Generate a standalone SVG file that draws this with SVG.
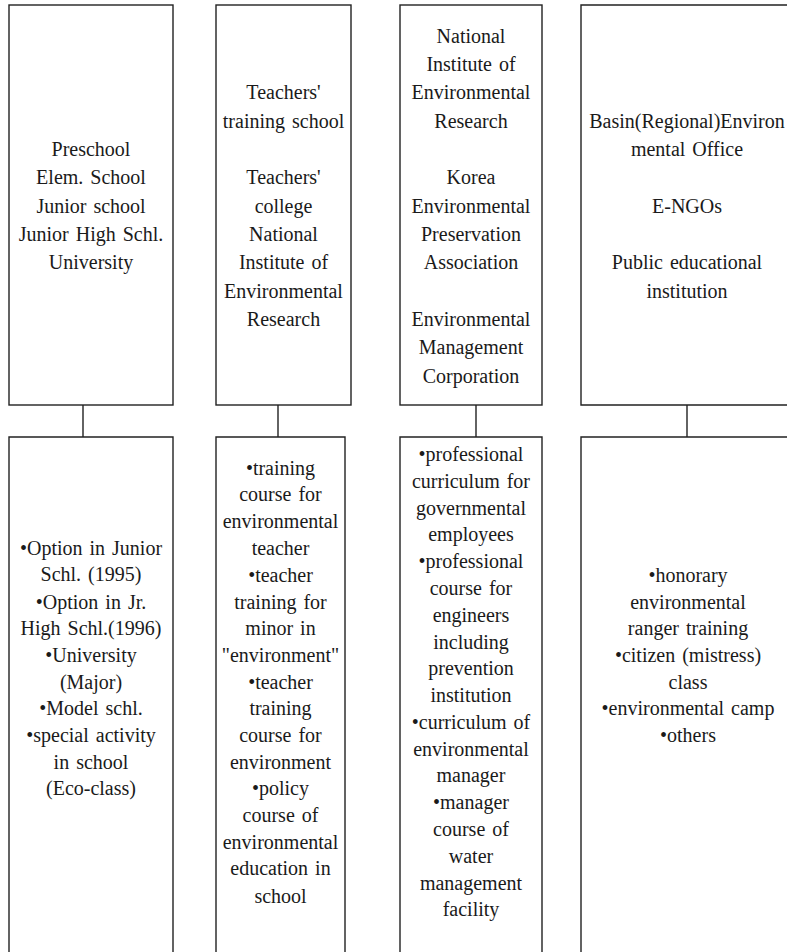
<svg xmlns="http://www.w3.org/2000/svg" width="787" height="952" viewBox="0 0 787 952">
<style>
.box{fill:#fff;stroke:#222;stroke-width:1.4}
.open{fill:none;stroke:#222;stroke-width:1.4}
.conn{stroke:#222;stroke-width:1.4;fill:none}
.t{font-family:'Liberation Serif','Times New Roman','DejaVu Serif',serif;font-size:20px;fill:#1a1a1a;text-anchor:middle;word-spacing:2px}
</style>
<rect width="787" height="952" fill="#fff"/>
<g id="connectors">
<line class="conn" x1="83" y1="405" x2="83" y2="437"/>
<line class="conn" x1="278" y1="405" x2="278" y2="437"/>
<line class="conn" x1="476" y1="405" x2="476" y2="437"/>
<line class="conn" x1="687" y1="405" x2="687" y2="437"/>
</g>
<g id="node-schools">
<rect class="box" x="9" y="5" width="164" height="400"/>
<text class="t" font-family="Liberation Serif, serif"><tspan x="91" y="156">Preschool</tspan><tspan x="91" y="184.3">Elem. School</tspan><tspan x="91" y="212.7">Junior school</tspan><tspan x="91" y="241">Junior High Schl.</tspan><tspan x="91" y="269.3">University</tspan></text>
</g>
<g id="node-teachers">
<rect class="box" x="216" y="5" width="135" height="400"/>
<text class="t"><tspan x="283.5" y="99.3">Teachers'</tspan><tspan x="283.5" y="127.7">training school</tspan><tspan x="283.5" y="184.3">Teachers'</tspan><tspan x="283.5" y="212.7">college</tspan><tspan x="283.5" y="241">National</tspan><tspan x="283.5" y="269.3">Institute of</tspan><tspan x="283.5" y="297.7">Environmental</tspan><tspan x="283.5" y="326">Research</tspan></text>
</g>
<g id="node-institutes">
<rect class="box" x="400" y="5" width="142" height="400"/>
<text class="t"><tspan x="471" y="42.7">National</tspan><tspan x="471" y="71">Institute of</tspan><tspan x="471" y="99.3">Environmental</tspan><tspan x="471" y="127.7">Research</tspan><tspan x="471" y="184.3">Korea</tspan><tspan x="471" y="212.7">Environmental</tspan><tspan x="471" y="241">Preservation</tspan><tspan x="471" y="269.3">Association</tspan><tspan x="471" y="326">Environmental</tspan><tspan x="471" y="354.3">Management</tspan><tspan x="471" y="382.7">Corporation</tspan></text>
</g>
<g id="node-regional">
<path class="open" d="M787,5 H581 V405 H787"/>
<text class="t"><tspan x="687" y="127.7">Basin(Regional)Environ</tspan><tspan x="687" y="156">mental Office</tspan><tspan x="687" y="212.7">E-NGOs</tspan><tspan x="687" y="269.3">Public educational</tspan><tspan x="687" y="297.7">institution</tspan></text>
</g>
<g id="node-school-programs">
<path class="open" d="M9,952 V437 H173 V952"/>
<text class="t"><tspan x="91" y="554.7">•Option in Junior</tspan><tspan x="91" y="581.3">Schl. (1995)</tspan><tspan x="91" y="608.7">•Option in Jr.</tspan><tspan x="91" y="635.3">High Schl.(1996)</tspan><tspan x="91" y="662">•University</tspan><tspan x="91" y="688.7">(Major)</tspan><tspan x="91" y="715.3">•Model schl.</tspan><tspan x="91" y="742">•special activity</tspan><tspan x="91" y="768.7">in school</tspan><tspan x="91" y="795.3">(Eco-class)</tspan></text>
</g>
<g id="node-teacher-programs">
<path class="open" d="M216,952 V437 H345 V952"/>
<text class="t"><tspan x="280.5" y="474.7">•training</tspan><tspan x="280.5" y="501.3">course for</tspan><tspan x="280.5" y="528">environmental</tspan><tspan x="280.5" y="554.7">teacher</tspan><tspan x="280.5" y="582">•teacher</tspan><tspan x="280.5" y="608.7">training for</tspan><tspan x="280.5" y="635.3">minor in</tspan><tspan x="280.5" y="662">"environment"</tspan><tspan x="280.5" y="688.7">•teacher</tspan><tspan x="280.5" y="715.3">training</tspan><tspan x="280.5" y="742">course for</tspan><tspan x="280.5" y="768.7">environment</tspan><tspan x="280.5" y="795.3">•policy</tspan><tspan x="280.5" y="822">course of</tspan><tspan x="280.5" y="848.7">environmental</tspan><tspan x="280.5" y="875.3">education in</tspan><tspan x="280.5" y="903">school</tspan></text>
</g>
<g id="node-professional-programs">
<path class="open" d="M400,952 V437 H542 V952"/>
<text class="t"><tspan x="471" y="461">•professional</tspan><tspan x="471" y="487.8">curriculum for</tspan><tspan x="471" y="514.6">governmental</tspan><tspan x="471" y="541.3">employees</tspan><tspan x="471" y="568.1">•professional</tspan><tspan x="471" y="594.9">course for</tspan><tspan x="471" y="621.7">engineers</tspan><tspan x="471" y="648.5">including</tspan><tspan x="471" y="675.2">prevention</tspan><tspan x="471" y="702">institution</tspan><tspan x="471" y="728.8">•curriculum of</tspan><tspan x="471" y="755.6">environmental</tspan><tspan x="471" y="782.4">manager</tspan><tspan x="471" y="809.1">•manager</tspan><tspan x="471" y="835.9">course of</tspan><tspan x="471" y="862.7">water</tspan><tspan x="471" y="889.5">management</tspan><tspan x="471" y="916.3">facility</tspan></text>
</g>
<g id="node-public-programs">
<path class="open" d="M787,437 H581 V952"/>
<text class="t"><tspan x="688" y="582">•honorary</tspan><tspan x="688" y="608.7">environmental</tspan><tspan x="688" y="635.3">ranger training</tspan><tspan x="688" y="662">•citizen (mistress)</tspan><tspan x="688" y="688.7">class</tspan><tspan x="688" y="715.3">•environmental camp</tspan><tspan x="688" y="742">•others</tspan></text>
</g>
</svg>
